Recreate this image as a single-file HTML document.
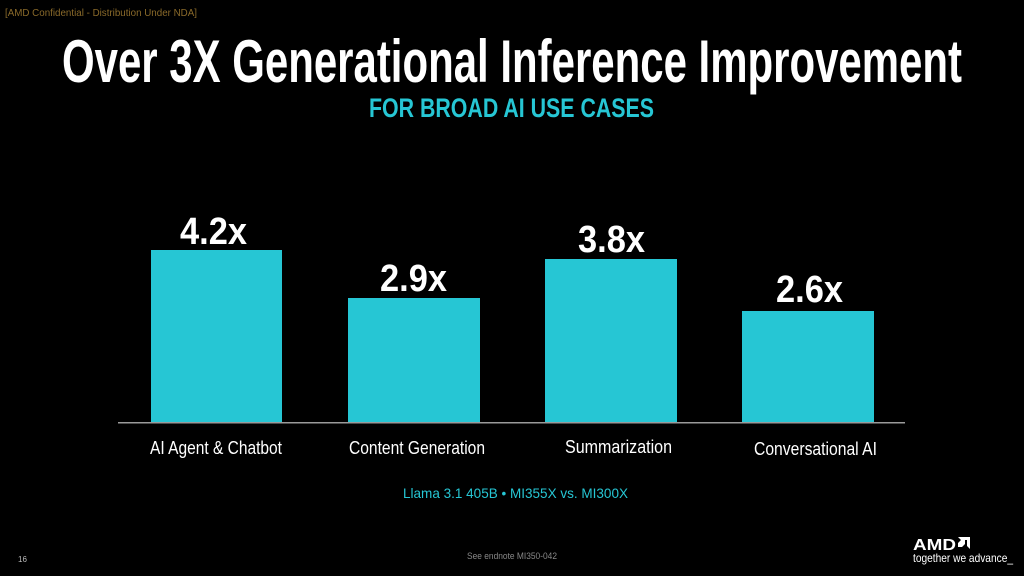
<!DOCTYPE html>
<html><head><meta charset="utf-8"><style>
html,body{margin:0;padding:0;background:#000;width:1024px;height:576px;overflow:hidden}
svg{display:block}
text{font-family:"Liberation Sans Narrow","Liberation Sans",sans-serif}
</style></head><body>
<svg width="1024" height="576" viewBox="0 0 1024 576" xmlns="http://www.w3.org/2000/svg">
<rect width="1024" height="576" fill="#000"/>
<text x="5" y="16" font-size="10" fill="#8a6a2a" textLength="192" lengthAdjust="spacingAndGlyphs" style="font-family:'Liberation Sans',sans-serif">[AMD Confidential - Distribution Under NDA]</text>
<text x="62" y="82" font-size="60" font-weight="bold" fill="#fff" textLength="900" lengthAdjust="spacingAndGlyphs">Over 3X Generational Inference Improvement</text>
<text x="369" y="117" font-size="27" font-weight="bold" fill="#26c6d4" textLength="285" lengthAdjust="spacingAndGlyphs">FOR BROAD AI USE CASES</text>
<g fill="#26c6d4">
<rect x="151" y="250" width="131" height="172"/>
<rect x="348" y="298" width="132" height="124"/>
<rect x="545" y="259" width="132" height="163"/>
<rect x="742" y="311" width="132" height="111"/>
</g>
<rect x="118" y="422" width="787" height="1.5" fill="#9a9a9a"/>
<g font-size="38" font-weight="bold" fill="#fff">
<text x="180" y="244" textLength="67" lengthAdjust="spacingAndGlyphs">4.2x</text>
<text x="380" y="291" textLength="67" lengthAdjust="spacingAndGlyphs">2.9x</text>
<text x="578" y="252" textLength="67" lengthAdjust="spacingAndGlyphs">3.8x</text>
<text x="776" y="302" textLength="67" lengthAdjust="spacingAndGlyphs">2.6x</text>
</g>
<g font-size="18" fill="#fff">
<text x="150" y="454" textLength="132" lengthAdjust="spacingAndGlyphs">AI Agent &amp; Chatbot</text>
<text x="349" y="454" textLength="136" lengthAdjust="spacingAndGlyphs">Content Generation</text>
<text x="565" y="453" textLength="107" lengthAdjust="spacingAndGlyphs">Summarization</text>
<text x="754" y="455" textLength="123" lengthAdjust="spacingAndGlyphs">Conversational AI</text>
</g>
<text x="403" y="498" font-size="14" fill="#26c6d4" textLength="225" lengthAdjust="spacingAndGlyphs">Llama 3.1 405B  •  MI355X vs. MI300X</text>
<text x="467" y="559" font-size="9" fill="#888" textLength="90" lengthAdjust="spacingAndGlyphs" style="font-family:'Liberation Sans',sans-serif">See endnote MI350-042</text>
<text x="18" y="562" font-size="8" fill="#bbb">16</text>
<text x="913" y="550" font-size="16" font-weight="bold" fill="#fff" textLength="43" lengthAdjust="spacingAndGlyphs" style="font-family:'Liberation Sans',sans-serif">AMD</text>
<path d="M958 537h12v12l-3-3v-6h-6zM958 549v-6l3-3h4v4l-3 3h-4z" fill="#fff"/>
<text x="913" y="562" font-size="12" fill="#fff" textLength="100" lengthAdjust="spacingAndGlyphs">together we advance_</text>
</svg>
</body></html>
